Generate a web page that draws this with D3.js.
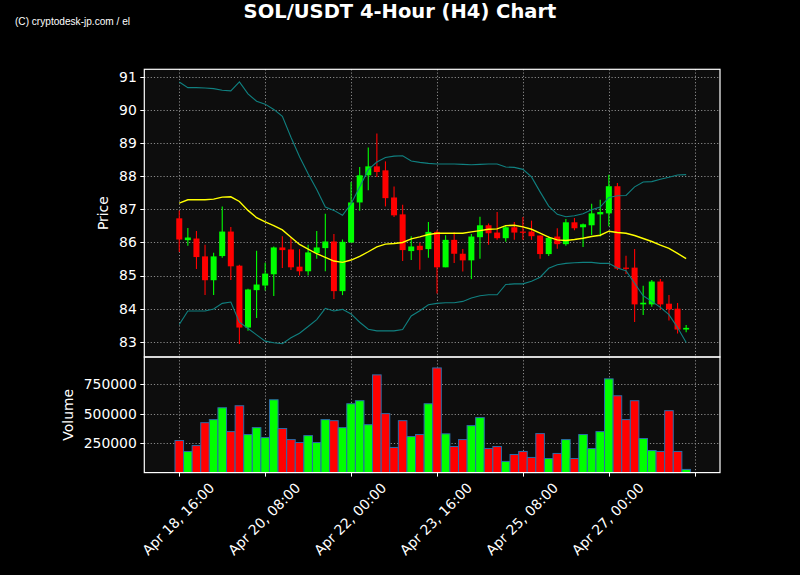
<!DOCTYPE html>
<html><head><meta charset="utf-8">
<script src="https://cdn.jsdelivr.net/npm/d3@7"></script>
<style>
html,body{margin:0;padding:0;background:#000;}
svg{display:block;}
text{font-family:"DejaVu Sans",sans-serif;fill:#fff;}
</style></head>
<body>
<svg id="chart" width="800" height="575"></svg>
<script>
const opens  = [86.73,86.07,86.12,85.58,84.86,85.59,86.33,85.30,83.43,84.56,84.70,85.04,85.85,85.79,85.27,85.13,85.68,85.83,86.03,84.53,86.00,87.21,88.03,88.30,88.18,87.36,86.85,85.74,85.90,85.80,86.32,85.25,86.08,85.66,85.46,86.16,86.52,86.30,86.13,86.46,86.33,86.33,86.21,85.65,86.18,85.95,86.61,86.46,86.52,86.85,86.88,87.70,85.24,85.24,84.13,84.13,84.82,84.15,84.00,83.37];
const highs  = [86.97,86.44,86.35,85.93,85.69,87.09,86.47,85.33,84.60,85.75,85.39,85.88,86.19,86.16,85.80,85.93,86.35,86.87,86.26,86.09,87.83,88.28,88.87,89.29,88.45,87.69,87.14,86.19,85.99,86.62,86.37,86.22,86.31,85.80,86.26,86.78,86.57,86.92,86.52,86.62,86.77,86.66,86.21,86.19,86.43,86.71,86.74,86.57,87.17,87.29,88.05,87.80,85.60,85.80,84.69,84.87,84.90,84.41,84.17,83.51];
const lows   = [85.71,85.90,85.20,84.41,84.41,85.54,84.87,82.93,83.33,83.72,84.55,84.38,85.23,85.17,85.00,85.00,85.51,85.13,84.29,84.41,86.00,86.96,87.58,87.98,87.09,86.77,85.44,85.47,85.18,85.54,84.46,85.25,85.38,85.12,84.90,85.51,85.93,86.08,86.02,86.08,86.08,86.08,85.51,85.59,85.81,85.90,86.37,85.86,86.23,86.18,86.49,85.17,85.05,83.60,83.81,84.06,83.96,83.64,83.25,83.29];
const closes = [86.09,86.15,85.56,84.86,85.58,86.33,85.28,83.43,84.58,84.73,85.06,85.85,85.77,85.25,85.13,85.70,85.85,86.03,84.53,86.02,87.21,88.03,88.30,88.13,87.34,86.82,85.77,85.88,85.77,86.32,85.25,86.08,85.66,85.46,86.18,86.52,86.28,86.13,86.46,86.30,86.30,86.19,85.65,86.14,85.95,86.61,86.43,86.55,86.88,86.92,87.70,85.21,85.21,84.13,84.18,84.82,84.13,83.98,83.37,83.42];
const volumes = [273000,180000,230000,425000,451000,552000,349000,569000,324000,383000,298000,620000,375000,281000,256000,315000,256000,451000,442000,383000,586000,612000,408000,832000,502000,214000,442000,307000,324000,586000,891000,330000,222000,281000,400000,468000,205000,222000,95000,154000,180000,129000,332000,120000,163000,281000,120000,324000,205000,349000,798000,654000,451000,612000,290000,188000,180000,527000,180000,27000];
const sma   = [87.19,87.29,87.29,87.29,87.31,87.37,87.38,87.24,86.97,86.75,86.62,86.51,86.38,86.16,85.94,85.80,85.66,85.55,85.44,85.40,85.47,85.58,85.72,85.87,85.95,85.97,86.00,86.11,86.17,86.24,86.28,86.28,86.28,86.28,86.32,86.36,86.40,86.41,86.51,86.52,86.47,86.40,86.28,86.16,86.08,86.06,86.09,86.13,86.18,86.22,86.34,86.30,86.28,86.21,86.12,86.03,85.92,85.82,85.67,85.51];
const upper = [90.85,90.68,90.68,90.67,90.65,90.60,90.58,90.85,90.49,90.27,90.18,90.02,89.81,89.18,88.59,88.08,87.60,87.07,86.97,86.82,87.17,87.68,88.20,88.43,88.57,88.61,88.62,88.46,88.42,88.39,88.37,88.37,88.37,88.36,88.35,88.36,88.37,88.37,88.28,88.27,88.21,87.98,87.53,87.10,86.85,86.78,86.81,86.87,86.99,87.07,87.36,87.41,87.42,87.68,87.83,87.84,87.91,87.97,88.04,88.05];
const lower = [83.52,83.93,83.93,83.93,83.99,84.16,84.20,83.59,83.40,83.21,83.02,82.97,82.94,83.12,83.26,83.46,83.67,84.01,83.93,83.98,83.84,83.59,83.38,83.33,83.33,83.33,83.37,83.78,83.94,84.12,84.16,84.18,84.18,84.22,84.32,84.39,84.42,84.42,84.73,84.75,84.75,84.83,84.95,85.22,85.33,85.37,85.39,85.40,85.40,85.37,85.37,85.23,85.15,84.77,84.39,84.22,84.04,83.82,83.43,82.98];
const tickIndex  = [0,10,20,30,40,50,60];
const tickLabels = ["Apr 18, 16:00","Apr 20, 08:00","Apr 22, 00:00","Apr 23, 16:00","Apr 25, 08:00","Apr 27, 00:00",""];
const priceTicks = [83,84,85,86,87,88,89,90,91];
const volTicks   = [250000,500000,750000];

const svg = d3.select("#chart");
const L = 144.3, R = 720, PT = 69.3, PB = 357, VB = 472.6;
const x = d3.scaleLinear().domain([-4.07, 62.94]).range([L, R]);
const y = d3.scaleLinear().domain([82.54, 91.233]).range([PB, PT]);
const yv = d3.scaleLinear().domain([0, 984000]).range([VB, PB]);
const step = x(1) - x(0);
const up = i => closes[i] >= opens[i];
const GREEN = "#00ff00", RED = "#ff0000";

svg.append("rect").attr("width",800).attr("height",575).attr("fill","#000");
svg.append("rect").attr("x",L).attr("y",PT).attr("width",R-L).attr("height",VB-PT).attr("fill","#0d0d0d");

// grids
const grid = svg.append("g").attr("stroke","#8a8a8a").attr("stroke-width",1).attr("stroke-dasharray","1.2,2");
priceTicks.forEach(t => grid.append("line").attr("x1",L).attr("x2",R).attr("y1",Math.round(y(t))+0.5).attr("y2",Math.round(y(t))+0.5));
volTicks.forEach(t => grid.append("line").attr("x1",L).attr("x2",R).attr("y1",Math.round(yv(t))+0.5).attr("y2",Math.round(yv(t))+0.5));
tickIndex.forEach(t => {
  const xx = Math.round(x(t))+0.5;
  grid.append("line").attr("x1",xx).attr("x2",xx).attr("y1",PT).attr("y2",PB);
  grid.append("line").attr("x1",xx).attr("x2",xx).attr("y1",PB).attr("y2",VB);
});

const idx = d3.range(opens.length);
// candles
const cg = svg.append("g");
cg.selectAll("line.w").data(idx).join("line")
  .attr("x1",i=>x(i)).attr("x2",i=>x(i))
  .attr("y1",i=>y(highs[i])).attr("y2",i=>y(lows[i]))
  .attr("stroke",i=>up(i)?GREEN:RED).attr("stroke-width",1.1);
cg.selectAll("rect").data(idx).join("rect")
  .attr("x",i=>x(i)-step*0.35).attr("width",step*0.7)
  .attr("y",i=>y(Math.max(opens[i],closes[i])))
  .attr("height",i=>Math.max(1.2, Math.abs(y(opens[i])-y(closes[i]))))
  .attr("fill",i=>up(i)?GREEN:RED);

// bands and SMA
const line = arr => d3.line().x((d,i)=>x(i)).y(d=>y(d))(arr);
svg.append("path").attr("d",line(upper)).attr("fill","none").attr("stroke","#108080").attr("stroke-width",1.1);
svg.append("path").attr("d",line(lower)).attr("fill","none").attr("stroke","#108080").attr("stroke-width",1.1);
svg.append("path").attr("d",line(sma)).attr("fill","none").attr("stroke","#ffff00").attr("stroke-width",1.4);

// volume bars
svg.append("g").selectAll("rect").data(idx).join("rect")
  .attr("x",i=>x(i)-step/2).attr("width",step)
  .attr("y",i=>yv(volumes[i])).attr("height",i=>yv(0)-yv(volumes[i]))
  .attr("fill",i=>up(i)?GREEN:RED).attr("stroke","#2b6ca8").attr("stroke-width",1);

// spines
const sp = svg.append("g").attr("fill","none").attr("stroke","#fff").attr("stroke-width",1.2);
sp.append("rect").attr("x",L).attr("y",PT).attr("width",R-L).attr("height",PB-PT);
sp.append("rect").attr("x",L).attr("y",PB).attr("width",R-L).attr("height",VB-PB);

// axes ticks
const tk = svg.append("g").attr("stroke","#fff").attr("stroke-width",1);
priceTicks.forEach(t => tk.append("line").attr("x1",L-4).attr("x2",L).attr("y1",Math.round(y(t))+0.5).attr("y2",Math.round(y(t))+0.5));
volTicks.forEach(t => tk.append("line").attr("x1",L-4).attr("x2",L).attr("y1",Math.round(yv(t))+0.5).attr("y2",Math.round(yv(t))+0.5));
tickIndex.forEach(t => tk.append("line").attr("x1",Math.round(x(t))+0.5).attr("x2",Math.round(x(t))+0.5).attr("y1",VB).attr("y2",VB+4));

const tl = svg.append("g").attr("font-size","13.9px");
priceTicks.forEach(t => tl.append("text").attr("x",L-7.5).attr("y",y(t)).attr("dy","0.35em").attr("text-anchor","end").text(d3.format("d")(t)));
volTicks.forEach(t => tl.append("text").attr("x",L-7.5).attr("y",yv(t)).attr("dy","0.35em").attr("text-anchor","end").text(d3.format("d")(t)));
tickIndex.forEach((t,k) => {
  if (!tickLabels[k]) return;
  tl.append("text").attr("text-anchor","middle").attr("dy","0.35em")
    .attr("transform",`translate(${x(t)-1},${519}) rotate(-45)`).text(tickLabels[k]);
});

// axis labels
svg.append("text").attr("font-size","13.9px").attr("text-anchor","middle")
  .attr("transform",`translate(108,${(PT+PB)/2}) rotate(-90)`).text("Price");
svg.append("text").attr("font-size","13.9px").attr("text-anchor","middle")
  .attr("transform",`translate(73,${(PB+VB)/2}) rotate(-90)`).text("Volume");

// title and watermark
svg.append("text").attr("x",400).attr("y",17.5).attr("text-anchor","middle")
  .attr("font-size","19.5px").attr("font-weight","bold").text("SOL/USDT 4-Hour (H4) Chart");
svg.append("text").attr("x",15).attr("y",25).attr("font-size","11.5px")
  .style("font-family","'Liberation Sans',Arial,sans-serif")
  .attr("textLength",115).attr("lengthAdjust","spacingAndGlyphs")
  .text("(C) cryptodesk-jp.com / el");
</script>
</body></html>
